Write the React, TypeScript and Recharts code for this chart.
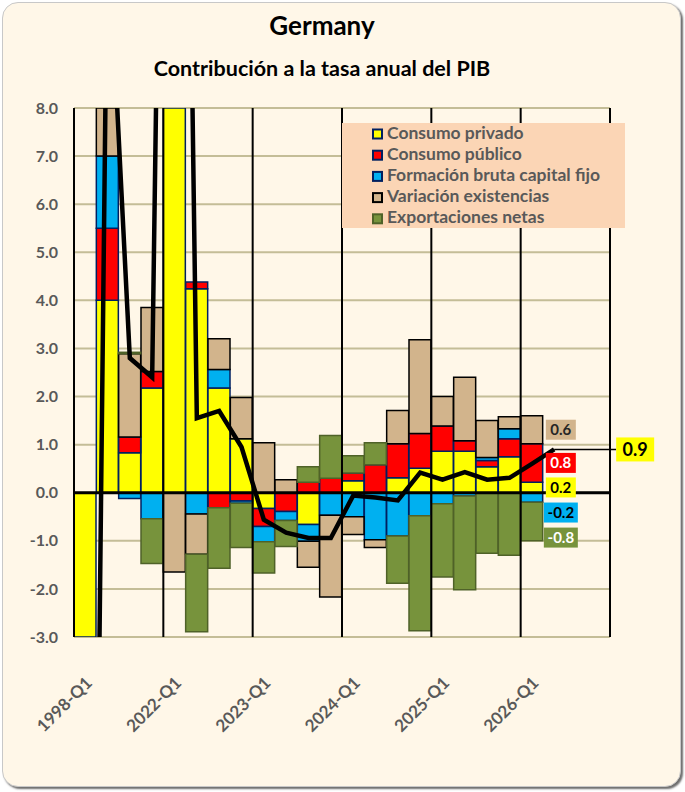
import {
  Bar,
  CartesianGrid,
  ComposedChart,
  LabelList,
  Line,
  ReferenceDot,
  ReferenceLine,
  XAxis,
  YAxis,
} from 'recharts'

const categories = [
  '1998-Q1', '2021-Q2', '2021-Q3', '2021-Q4',
  '2022-Q1', '2022-Q2', '2022-Q3', '2022-Q4',
  '2023-Q1', '2023-Q2', '2023-Q3', '2023-Q4',
  '2024-Q1', '2024-Q2', '2024-Q3', '2024-Q4',
  '2025-Q1', '2025-Q2', '2025-Q3', '2025-Q4',
  '2026-Q1', '2026-Q2', '2026-Q3', '2026-Q4',
]

// contributions in percentage points
const consumoPrivado = [-12, 4.0, 0.83, 2.18, 9.5, 4.24, 2.18, 1.12, -0.33, 0, -0.66, 0, 0.25, 0, 0.31, 0.51, 0.86, 0.86, 0.54, 0.75, 0.22]
const consumoPublico = [0, 1.5, 0.33, 0.34, 0, 0.14, -0.31, -0.17, -0.37, -0.39, 0.22, 0.3, 0.16, 0.58, 0.71, 0.72, 0.53, 0.22, 0.13, 0.37, 0.8]
const formacionCapital = [0, 1.5, -0.12, -0.54, 0, -0.44, 0.38, -0.05, -0.32, -0.19, -0.35, -0.47, -0.5, -0.98, -0.9, -0.48, -0.23, -0.07, 0.06, 0.21, -0.2]
const variacionExistencias = [0, 3.0, 1.73, 1.33, -1.65, -0.84, 0.64, 0.86, 1.04, 0.27, -0.54, -1.7, -0.37, -0.16, 0.69, 1.95, 0.61, 1.32, 0.77, 0.25, 0.58]
const exportacionesNetas = [0, 2.0, 0.03, -0.93, 0, -1.61, -1.26, -0.92, -0.65, -0.54, 0.32, 0.89, 0.36, 0.46, -0.98, -2.39, -1.52, -1.95, -1.26, -1.3, -0.8]
const pib = [-30, 12, 2.8, 2.4, 35, 1.55, 1.7, 0.95, -0.56, -0.83, -0.94, -0.94, -0.06, -0.1, -0.16, 0.42, 0.27, 0.43, 0.27, 0.31, 0.6, 0.9]

const yTicks = [-3, -2, -1, 0, 1, 2, 3, 4, 5, 6, 7, 8]
const gridStarts = ['1998-Q1', '2022-Q1', '2023-Q1', '2024-Q1', '2025-Q1', '2026-Q1']

const LABEL_INDEX = 20 // last quarter with bars gets the value boxes
const PIB_LABEL_INDEX = 21

const FONT = 'Lato, "Open Sans", sans-serif'
const GRAY = '#595959'
const BG = '#FFF7E8'

const series = [
  { key: 'privado', name: 'Consumo privado', values: consumoPrivado, fill: '#FFFF00', stroke: '#002060', text: '#000', shift: 0 },
  { key: 'publico', name: 'Consumo público', values: consumoPublico, fill: '#FF0000', stroke: '#002060', text: '#fff', shift: 0 },
  { key: 'fbcf', name: 'Formación bruta capital fijo', values: formacionCapital, fill: '#00B0F0', stroke: '#002060', text: '#000', shift: 15 },
  { key: 'existencias', name: 'Variación existencias', values: variacionExistencias, fill: '#D2B48C', stroke: '#000', text: '#262626', shift: 0 },
  { key: 'exportaciones', name: 'Exportaciones netas', values: exportacionesNetas, fill: '#77933C', stroke: '#4F6228', text: '#fff', shift: 16 },
]

const data = categories.map((cat, i) => {
  const row: Record<string, string | number | null> = { cat, pib: pib[i] ?? null }
  series.forEach((s) => {
    row[s.key] = s.values[i] ?? null
  })
  return row
})

// middle of each stacked segment of the last bar (sign-stacked like the chart)
const labelSpots = (() => {
  let pos = 0
  let neg = 0
  return series.map((s) => {
    const v = s.values[LABEL_INDEX]
    const lo = v >= 0 ? pos : neg
    if (v >= 0) pos += v
    else neg += v
    return { s, v, center: lo + v / 2 }
  })
})()

function segmentBox(spot: (typeof labelSpots)[number]) {
  return (p: any) => {
    const w = spot.v < 0 ? 34 : 30
    const cx = Number(p.cx) + 29
    const cy = Number(p.cy) + spot.s.shift
    return (
      <g>
        <rect x={cx - w / 2} y={cy - 10} width={w} height={20} fill={spot.s.fill} />
        <text
          x={cx}
          y={cy + 5.5}
          textAnchor="middle"
          fontFamily={FONT}
          fontWeight={700}
          fontSize={15}
          fill={spot.s.text}
        >
          {spot.v.toFixed(1)}
        </text>
      </g>
    )
  }
}

function pibLabel(p: any) {
  if (p.index !== PIB_LABEL_INDEX) return null
  const x = Number(p.viewBox?.x ?? p.x)
  const y = Number(p.viewBox?.y ?? p.y)
  return (
    <g>
      <line x1={x} y1={y} x2={x + 62} y2={y} stroke="#000" strokeWidth={1.5} />
      <rect x={x + 62} y={y - 12} width={38} height={24} fill="#FFFF00" />
      <text
        x={x + 81}
        y={y + 6.5}
        textAnchor="middle"
        fontFamily={FONT}
        fontWeight={700}
        fontSize={18}
        fill="#000"
      >
        {pib[PIB_LABEL_INDEX].toFixed(1)}
      </text>
    </g>
  )
}

function XTick(p: any) {
  const x = p.x + 8
  const y = p.y + 47
  return (
    <text
      x={x}
      y={y}
      transform={`rotate(-45 ${x} ${y})`}
      textAnchor="end"
      fontFamily={FONT}
      fontWeight={700}
      fontSize={17}
      fill={GRAY}
    >
      {p.payload.value}
    </text>
  )
}

function Overlay() {
  return (
    <svg
      width={685}
      height={792}
      style={{ position: 'absolute', left: 0, top: 0, pointerEvents: 'none' }}
    >
      <text x={322} y={35} textAnchor="middle" fontFamily={FONT} fontWeight={700} fontSize={26} fill="#000">
        Germany
      </text>
      <text x={322} y={76} textAnchor="middle" fontFamily={FONT} fontWeight={700} fontSize={21.5} fill="#000">
        Contribución a la tasa anual del PIB
      </text>
      <rect x={342} y={123} width={283} height={105} fill="#FBD5B5" />
      {series.map((s, i) => {
        const base = 138.5 + i * 21.2
        return (
          <g key={s.key}>
            <rect x={373} y={base - 9} width={9} height={9} fill={s.fill} stroke={s.stroke} strokeWidth={2} />
            <text x={387} y={base} fontFamily={FONT} fontWeight={700} fontSize={17.5} fill={GRAY}>
              {s.name}
            </text>
          </g>
        )
      })}
    </svg>
  )
}

export default function App() {
  return (
    <div style={{ position: 'absolute', left: 0, top: 0, width: 685, height: 792, background: '#fff' }}>
      <div
        style={{
          position: 'absolute',
          left: 2,
          top: 2,
          width: 677,
          height: 783,
          background: BG,
          border: '1.5px solid #C8C8C8',
          borderRadius: 16,
          boxShadow: '2px 2px 2px rgba(60,60,60,0.75)',
        }}
      />
      <div style={{ position: 'absolute', left: 0, top: 0 }}>
        <ComposedChart
          width={685}
          height={792}
          data={data}
          stackOffset="sign"
          barCategoryGap={0}
          barGap={0}
          margin={{ top: 108, right: 75, left: 34, bottom: 95 }}
        >
          <CartesianGrid vertical={false} stroke="#C4BD97" strokeWidth={2} />
          <XAxis
            dataKey="cat"
            interval={3}
            tickLine={false}
            axisLine={false}
            tickSize={0}
            tickMargin={0}
            height={60}
            tick={<XTick />}
          />
          <YAxis
            domain={[-3, 8]}
            allowDataOverflow
            ticks={yTicks}
            tickFormatter={(v: number) => v.toFixed(1)}
            axisLine={{ stroke: '#000', strokeWidth: 2 }}
            tickLine={false}
            tickSize={0}
            tickMargin={16}
            width={40}
            tick={{ fill: GRAY, fontSize: 16, fontWeight: 700, fontFamily: FONT }}
          />
          {gridStarts.map((c) => (
            <ReferenceLine key={c} x={c} position="start" stroke="#000" strokeWidth={2} />
          ))}
          <ReferenceLine x={categories[categories.length - 1]} position="end" stroke="#000" strokeWidth={2} />
          {series.map((s) => (
            <Bar
              key={s.key}
              dataKey={s.key}
              name={s.name}
              stackId="pib"
              fill={s.fill}
              stroke={s.stroke}
              strokeWidth={1.5}
              isAnimationActive={false}
            />
          ))}
          <ReferenceLine y={0} stroke="#000" strokeWidth={3} />
          {labelSpots.map((spot) => (
            <ReferenceDot
              key={spot.s.key}
              x={categories[LABEL_INDEX]}
              y={spot.center}
              r={0}
              shape={segmentBox(spot)}
            />
          ))}
          <Line
            type="linear"
            dataKey="pib"
            stroke="#000"
            strokeWidth={4.5}
            dot={false}
            isAnimationActive={false}
          >
            <LabelList dataKey="pib" content={pibLabel} />
          </Line>
        </ComposedChart>
      </div>
      <Overlay />
    </div>
  )
}
